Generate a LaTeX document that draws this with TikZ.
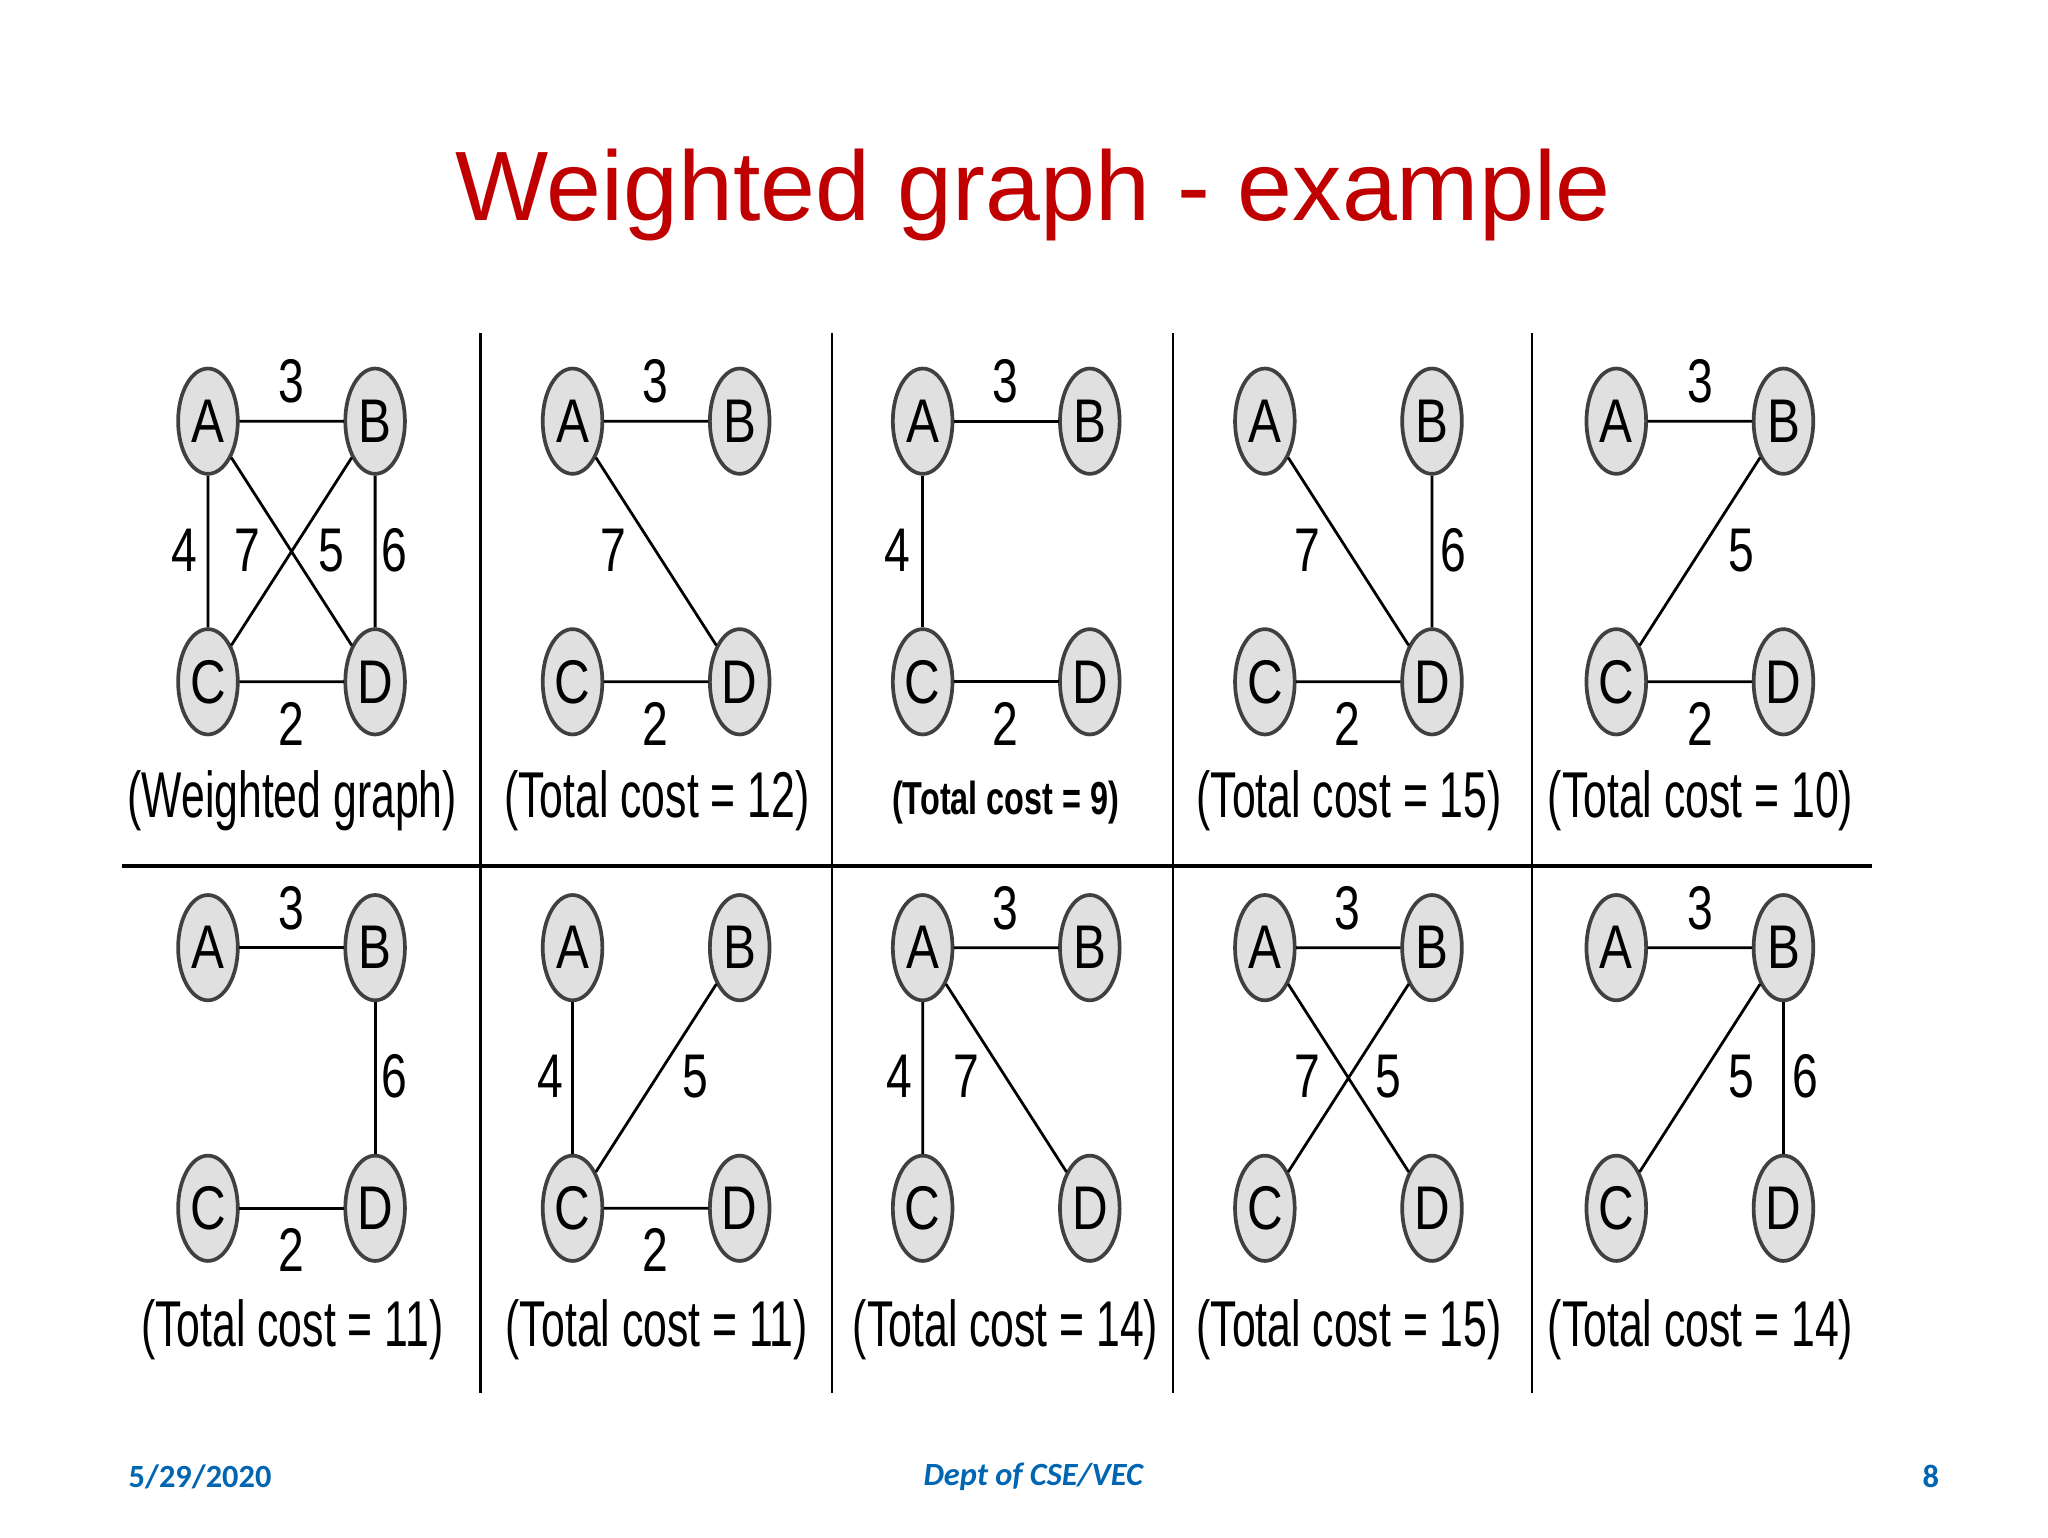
\documentclass[tikz,border=0pt]{standalone}
\usepackage{fontspec}
\setmainfont{Liberation Sans}
\newfontfamily\foot{Carlito}
\usetikzlibrary{shapes.geometric}
\definecolor{ttl}{RGB}{192,0,0}
\definecolor{ft}{RGB}{0,102,178}
\newcommand\mkp[3]{%
 \node[vx] (#1A) at (#2,#3) {A};
 \node[vx] (#1B) at (#2+127,#3) {B};
 \node[vx] (#1C) at (#2,#3+198) {C};
 \node[vx] (#1D) at (#2+127,#3+198) {D};}
\begin{document}
\begin{tikzpicture}[x=0.03cm,y=-0.03cm,
 vx/.style={ellipse,draw=black!75,line width=2.4pt,fill=black!12,minimum width=1.7cm,minimum height=2.4cm,inner sep=0pt,font=\fontsize{40}{40}\selectfont,xscale=0.8},
 ed/.style={line width=1.8pt},
 wt/.style={font=\fontsize{40}{40}\selectfont,xscale=0.75,inner sep=0pt},
 captxt/.style={font=\fontsize{42}{42}\selectfont,xscale=0.66,inner sep=0pt},
 gridln/.style={line width=1.6pt}]
\useasboundingbox[fill=white] (0,0) rectangle (1556,1168);
\node[text=ttl,font=\fontsize{64}{64}\selectfont] (title) at (785,148) {Weighted graph - example};
\coordinate (v1t) at (365,253); \coordinate (v1b) at (365,1058);
\coordinate (v2t) at (632,253); \coordinate (v2b) at (632,1058);
\coordinate (v3t) at (891,253); \coordinate (v3b) at (891,1058);
\coordinate (v4t) at (1164,253); \coordinate (v4b) at (1164,1058);
\coordinate (hl) at (93,658); \coordinate (hr) at (1422,658);
\draw[gridln] (v1t)--(v1b) (v2t)--(v2b) (v3t)--(v3b) (v4t)--(v4b);
\draw[line width=2.5pt] (hl)--(hr);
\mkp{a}{158}{320}\mkp{b}{435}{320}\mkp{c}{701}{320}\mkp{d}{961}{320}\mkp{e}{1228}{320}
\mkp{f}{158}{720}\mkp{g}{435}{720}\mkp{h}{701}{720}\mkp{i}{961}{720}\mkp{j}{1228}{720}
\draw[ed] (aA)--(aB) (aC)--(aD) (aA)--(aC) (aB)--(aD) (aA)--(aD) (aB)--(aC);
\node[wt] at (221,290){3}; \node[wt] at (221,550){2};
\node[wt] at (140,418){4}; \node[wt] at (188,418){7}; \node[wt] at (252,418){5}; \node[wt] at (300,418){6};
\node[captxt] at (222,608){(Weighted graph)};
\draw[ed] (bA)--(bB) (bA)--(bD) (bC)--(bD);
\node[wt] at (498,290){3}; \node[wt] at (498,550){2}; \node[wt] at (466,418){7};
\node[captxt] at (499,608){(Total cost = 12)};
\draw[ed] (cA)--(cB) (cA)--(cC) (cC)--(cD);
\node[wt] at (764,290){3}; \node[wt] at (764,550){2}; \node[wt] at (682,418){4};
\node[font=\bfseries\fontsize{30}{30}\selectfont,xscale=0.7] at (764,610){(Total cost = 9)};
\draw[ed] (dA)--(dD) (dB)--(dD) (dC)--(dD);
\node[wt] at (1024,550){2}; \node[wt] at (993,418){7}; \node[wt] at (1104,418){6};
\node[captxt] at (1025,608){(Total cost = 15)};
\draw[ed] (eA)--(eB) (eB)--(eC) (eC)--(eD);
\node[wt] at (1292,290){3}; \node[wt] at (1292,550){2}; \node[wt] at (1323,418){5};
\node[captxt] at (1292,608){(Total cost = 10)};
\draw[ed] (fA)--(fB) (fB)--(fD) (fC)--(fD);
\node[wt] at (221,690){3}; \node[wt] at (221,950){2}; \node[wt] at (300,818){6};
\node[captxt] at (222,1010){(Total cost = 11)};
\draw[ed] (gA)--(gC) (gB)--(gC) (gC)--(gD);
\node[wt] at (498,950){2}; \node[wt] at (418,818){4}; \node[wt] at (528,818){5};
\node[captxt] at (499,1010){(Total cost = 11)};
\draw[ed] (hA)--(hB) (hA)--(hC) (hA)--(hD);
\node[wt] at (764,690){3}; \node[wt] at (683,818){4}; \node[wt] at (734,818){7};
\node[captxt] at (764,1010){(Total cost = 14)};
\draw[ed] (iA)--(iB) (iA)--(iD) (iB)--(iC);
\node[wt] at (1024,690){3}; \node[wt] at (993,818){7}; \node[wt] at (1055,818){5};
\node[captxt] at (1025,1010){(Total cost = 15)};
\draw[ed] (jA)--(jB) (jB)--(jC) (jB)--(jD);
\node[wt] at (1292,690){3}; \node[wt] at (1323,818){5}; \node[wt] at (1372,818){6};
\node[captxt] at (1292,1010){(Total cost = 14)};
\node[text=ft,font=\foot\bfseries\fontsize{21}{21}\selectfont] (f1) at (152,1122){5/29/2020};
\node[text=ft,font=\foot\bfseries\itshape\fontsize{21}{21}\selectfont] (f2) at (785,1122){Dept of CSE/VEC};
\node[text=ft,font=\foot\bfseries\fontsize{21}{21}\selectfont] (f3) at (1467,1122){8};
\end{tikzpicture}
\end{document}
